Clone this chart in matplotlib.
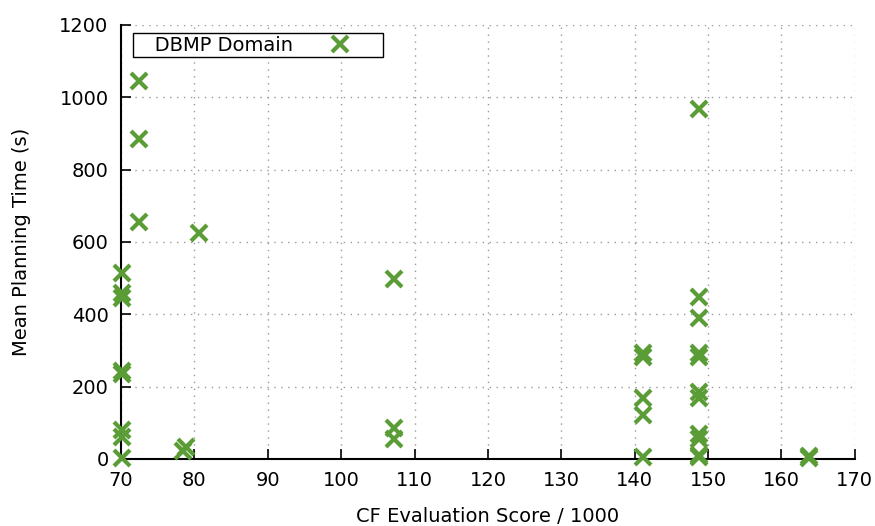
import matplotlib
matplotlib.use("Agg")
import matplotlib.pyplot as plt

# CF evaluation score (/1000) vs mean planning time (s)
cf_score = [72.5, 72.5, 72.5, 80.6,
            70.2, 70.2, 70.2, 70.2, 70.2, 70.2, 70.2, 70.2,
            78.4, 78.8,
            107.2, 107.2, 107.2,
            141.1, 141.1, 141.1, 141.1, 141.1,
            148.8, 148.8, 148.8, 148.8, 148.8, 148.8, 148.8, 148.8, 148.8, 148.8, 148.8,
            163.7, 163.7]
plan_time = [1045, 884, 654, 624,
             513, 459, 445, 243, 236, 80, 61, 3,
             22, 33,
             497, 85, 54,
             293, 283, 168, 122, 6,
             968, 447, 391, 293, 283, 185, 170, 68, 55, 11, 5,
             3, 7]

verde = "#5a9c35"

fig = plt.figure(figsize=(8.75, 5.26), dpi=100)
ax = fig.add_axes([0.1383, 0.1274, 0.977 - 0.1383, 0.9525 - 0.1274])

ax.plot(cf_score, plan_time, linestyle="none", marker="x", markersize=12,
        markeredgewidth=3, color=verde, label="   DBMP Domain", clip_on=False, zorder=3)

ax.set_xlim(70, 170)
ax.set_ylim(0, 1200)
ax.set_xticks(range(70, 171, 10))
ax.set_yticks(range(0, 1201, 200))

ax.spines["top"].set_visible(False)
ax.spines["right"].set_visible(False)
ax.spines["left"].set_linewidth(1.5)
ax.spines["bottom"].set_linewidth(1.5)
ax.tick_params(direction="in", length=7, width=1.2, labelsize=14, pad=9)

ax.grid(True, linestyle=(0, (1, 4)), color="#999999", linewidth=1)
ax.set_axisbelow(True)

ax.set_xlabel("CF Evaluation Score / 1000", fontsize=14, labelpad=12)
ax.set_ylabel("Mean Planning Time (s)", fontsize=14, labelpad=20)

leg = ax.legend(loc="upper left", bbox_to_anchor=(0.017, 0.981), markerfirst=False,
                numpoints=1, fontsize=14, fancybox=False, framealpha=1,
                edgecolor="black", handlelength=4.1, handletextpad=0.4,
                borderpad=0.12, borderaxespad=0.0)
leg.get_frame().set_linewidth(1.0)

plt.savefig("out.png", dpi=100)
